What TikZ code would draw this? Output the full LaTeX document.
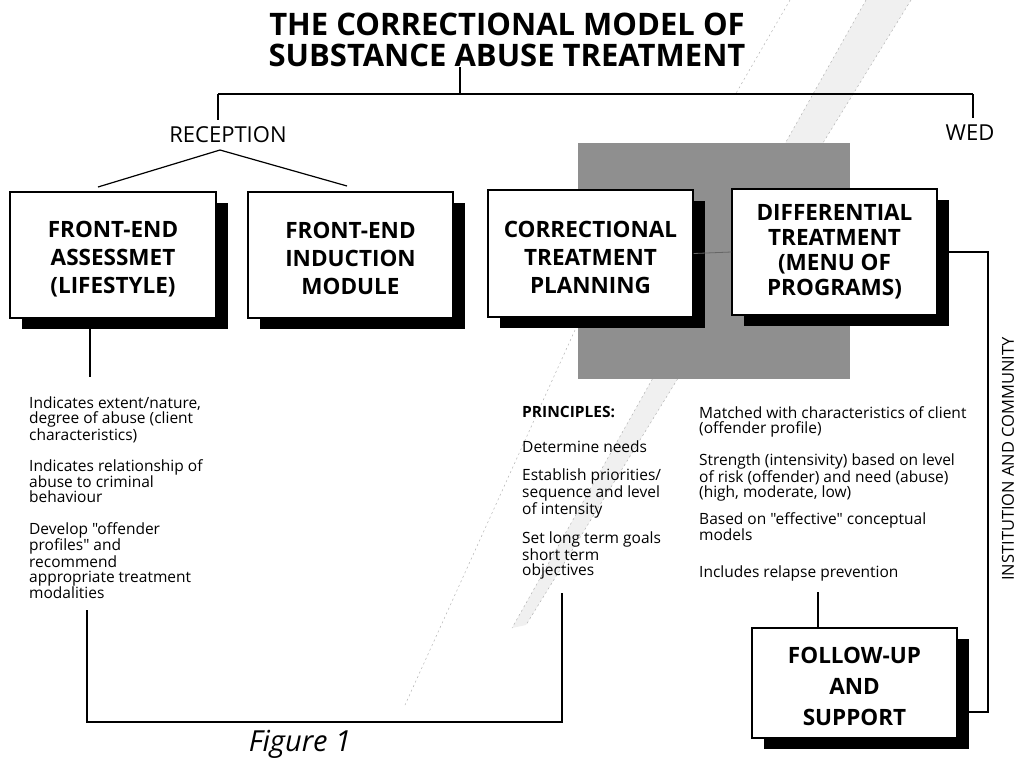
\documentclass[tikz,border=0pt]{standalone}
\usepackage{fontspec}
\setmainfont{Open Sans}
\newfontfamily\bodyfont{Open Sans}
\usetikzlibrary{shadows,calc}
\begin{document}
\begin{tikzpicture}[x=1pt,y=-1pt,
  box/.style={draw=black, line width=1.2pt, fill=white, minimum width=206pt,
    minimum height=126pt, align=center, inner sep=0pt,
    font=\bfseries\fontsize{22.5}{28}\selectfont,
    drop shadow={shadow xshift=12pt, shadow yshift=-11pt, fill=black, opacity=1}},
  para/.style={anchor=north west, align=left, inner sep=0pt,
    font=\bodyfont\fontsize{15.5}{15}\selectfont},
  lab/.style={inner sep=0pt, font=\fontsize{22}{22}\selectfont},
  conn/.style={line width=1.2pt, black},
  faint/.style={black!30, line width=0.5pt, dash pattern=on 2pt off 3pt},
]
\useasboundingbox (0,0) rectangle (1016,761);

% decorative diagonal band (scan artifact)
\fill[black!6] (866,0) -- (911,0) -- (526,625) -- (512,628) -- cycle;
\draw[faint] (866,0) -- (512,628);
\draw[faint] (911,0) -- (526,625);
\draw[faint] (790,0) -- (735,95);
\draw[faint] (575,330) -- (405,705);

% shaded rectangle
\fill[black!44] (578,143) rectangle (850,379);

% title
\node[inner sep=0pt, align=center, font=\bfseries\fontsize{31}{31}\selectfont] (title) at (507,40)
  {THE CORRECTIONAL MODEL OF\\SUBSTANCE ABUSE TREATMENT};

% labels
\node[lab] (rec) at (228,135) {RECEPTION};
\node[lab] (wed) at (970,133) {WED};

% boxes
\node[box] (b1) at (113,255) {\rule{0pt}{24pt}FRONT-END\\ASSESSMET\\(LIFESTYLE)};
\node[box, minimum width=205pt] (b2) at (350.5,255) {\rule{0pt}{24pt}FRONT-END\\INDUCTION\\MODULE};
\node[box, minimum width=205pt, minimum height=127pt] (b3) at (590.5,253.5) {\rule{0pt}{24pt}CORRECTIONAL\\TREATMENT\\PLANNING};
\node[box, minimum width=205pt, font=\bfseries\fontsize{22.5}{25}\selectfont] (b4) at (834.5,252) {DIFFERENTIAL\\TREATMENT\\(MENU OF\\PROGRAMS)};
\node[box, minimum width=205pt, minimum height=110pt, font=\bfseries\fontsize{22.5}{31}\selectfont] (b5) at (854.5,683) {\rule{0pt}{24pt}FOLLOW-UP\\AND\\SUPPORT};

% text blocks
\node[para] (l1) at (29,397) {Indicates extent/nature,\\degree of abuse (client\\characteristics)};
\node[para] (l2) at (29,459) {Indicates relationship of\\abuse to criminal\\behaviour};
\node[para] (l3) at (29,522) {Develop "offender\\profiles" and\\recommend\\appropriate treatment\\modalities};

\node[para, font=\bodyfont\bfseries\fontsize{15.5}{15}\selectfont] (m0) at (522,406) {PRINCIPLES:};
\node[para] (m1) at (522,441) {Determine needs};
\node[para] (m2) at (522,469) {Establish priorities/\\sequence and level\\of intensity};
\node[para] (m3) at (522,532) {Set long term goals\\short term\\objectives};

\node[para] (r1) at (699,406) {Matched with characteristics of client\\(offender profile)};
\node[para] (r2) at (699,454) {Strength (intensivity) based on level\\of risk (offender) and need (abuse)\\(high, moderate, low)};
\node[para] (r3) at (699,512) {Based on "effective" conceptual\\models};
\node[para] (r4) at (699,566) {Includes relapse prevention};

\node[rotate=90, inner sep=0pt, font=\fontsize{16.5}{16.5}\selectfont] (inst) at (1008,459) {INSTITUTION AND COMMUNITY};

\node[inner sep=0pt, font=\itshape\fontsize{29}{29}\selectfont] (fig) at (300,744) {Figure 1};

% connectors
\coordinate (t1) at (460,94);
\coordinate (hl) at (218,94);
\coordinate (hr) at (973,94);
\coordinate (recap) at (220,150);
\draw[conn] (title.south -| t1) -- (t1);
\draw[conn] (hl) -- (hr);
\draw[conn] (hl) -- (218,120);
\draw[conn] (hr) -- (973,118);
\draw[conn] (recap) -- (98,187);
\draw[conn] (recap) -- (347,186);

\coordinate (c1) at (90,377);
\draw[conn] (c1 |- b1.south) -- (c1);

\coordinate (lb1) at (87,610);
\coordinate (lb2) at (87,722);
\coordinate (lb3) at (562,722);
\coordinate (lb4) at (562,593);
\draw[conn] (lb1) -- (lb2) -- (lb3) -- (lb4);

\draw[black!60, line width=0.8pt] (b3.east) -- (b4.west);

\coordinate (fu) at (818,592);
\draw[conn] (fu) -- (fu |- b5.north);

\coordinate (rr1) at (988,252);
\coordinate (rr2) at (988,712);
\draw[conn] (b4.east |- rr1) -- (rr1) -- (rr2) -- (969,712);
\end{tikzpicture}
\end{document}
